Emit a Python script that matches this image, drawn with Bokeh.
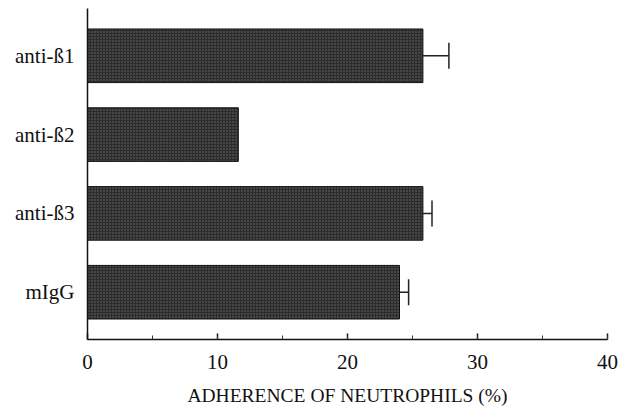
from bokeh.plotting import figure
from bokeh.models import ColumnDataSource, FactorRange, Range1d, SingleIntervalTicker
from bokeh.transform import dodge
from bokeh.embed import file_html
from bokeh.resources import INLINE

# Antibody treatments, listed bottom to top
categories = ["mIgG", "anti-ß3", "anti-ß2", "anti-ß1"]
adherence = [24.0, 25.8, 11.6, 25.8]      # % adherence of neutrophils
error = [0.7, 0.7, 0.0, 2.0]              # error bar half-widths

FONT = "Liberation Serif"

src = ColumnDataSource(dict(cat=categories, val=adherence))
err_rows = [i for i, e in enumerate(error) if e > 0]
err_src = ColumnDataSource(dict(cat=[categories[i] for i in err_rows],
                                val=[adherence[i] for i in err_rows],
                                hi=[adherence[i] + error[i] for i in err_rows]))

p = figure(width=618, height=411, output_backend="svg", toolbar_location=None,
           y_range=FactorRange(factors=categories, range_padding=0.1,
                               range_padding_units="absolute"),
           x_range=Range1d(0, 40))
p.min_border_left = 87
p.min_border_right = 11
p.min_border_top = 8
p.min_border_bottom = 72
p.outline_line_color = None
p.grid.visible = False
p.background_fill_color = "white"
p.border_fill_color = "white"

# stippled dark bars
p.hbar(y="cat", right="val", left=0, height=0.68, source=src,
       fill_color="#2c2c2c", line_color="#111111", line_width=1,
       hatch_pattern=".", hatch_color="#b0b0b0", hatch_alpha=0.5,
       hatch_scale=3, hatch_weight=1)

# error bars: stem from bar end plus a vertical cap
p.segment(x0="val", y0="cat", x1="hi", y1="cat", source=err_src,
          line_color="#222222", line_width=1.5)
p.segment(x0="hi", y0=dodge("cat", -0.165, range=p.y_range),
          x1="hi", y1=dodge("cat", 0.165, range=p.y_range),
          source=err_src, line_color="#222222", line_width=1.5)

# x axis
xa = p.xaxis[0]
xa.ticker = SingleIntervalTicker(interval=10, num_minor_ticks=2)
xa.axis_label = "ADHERENCE OF NEUTROPHILS (%)"
xa.axis_label_text_font = FONT
xa.axis_label_text_font_style = "normal"
xa.axis_label_text_font_size = "19.5px"
xa.axis_label_text_color = "#111111"
xa.axis_label_standoff = 13
xa.major_label_text_font = FONT
xa.major_label_text_font_size = "21px"
xa.major_label_text_color = "#111111"
xa.major_label_standoff = 15
xa.major_tick_in = 6
xa.major_tick_out = 0
xa.minor_tick_in = 4
xa.minor_tick_out = 0
xa.axis_line_width = 1.5
xa.axis_line_color = "#111111"
xa.major_tick_line_color = "#111111"
xa.major_tick_line_width = 1.5
xa.minor_tick_line_color = "#333333"

# y axis
ya = p.yaxis[0]
ya.major_label_text_font = FONT
ya.major_label_text_font_size = "21px"
ya.major_label_text_color = "#111111"
ya.major_tick_line_color = None
ya.major_tick_in = 0
ya.major_tick_out = 0
ya.minor_tick_line_color = None
ya.major_label_standoff = 13
ya.axis_line_width = 1.5
ya.axis_line_color = "#111111"

open("out.html", "w").write(file_html(p, INLINE))
